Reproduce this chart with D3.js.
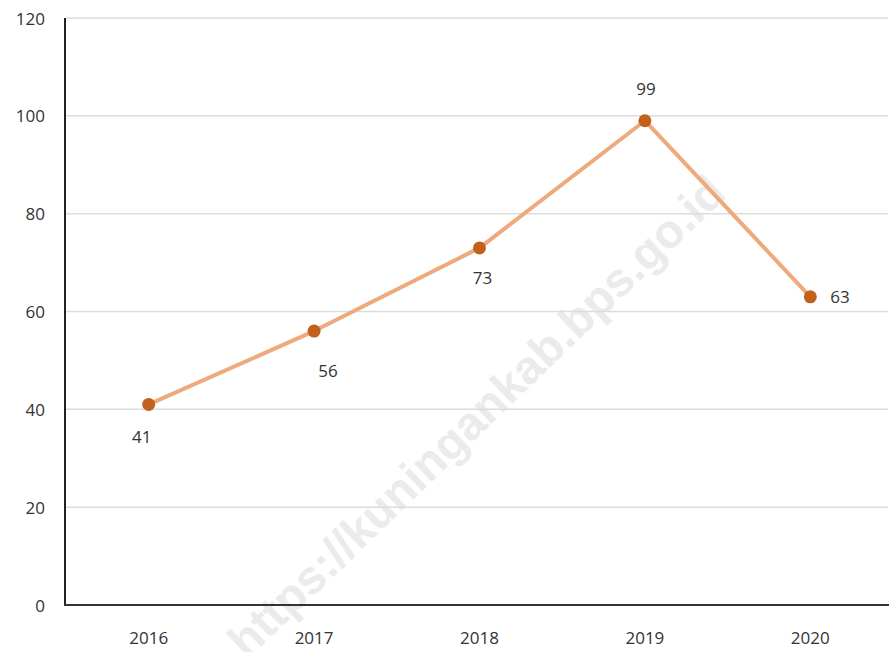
<!DOCTYPE html>
<html>
<head>
<meta charset="utf-8">
<script src="https://cdn.jsdelivr.net/npm/d3@7"></script>
<style>
  html, body { margin: 0; padding: 0; background: #fff; }
  svg { display: block; }
  text { font-family: "Open Sans", "DejaVu Sans", sans-serif; }
</style>
</head>
<body>
<svg id="chart" width="891" height="652"></svg>
<script>
const years = ["2016", "2017", "2018", "2019", "2020"];
const values = [41, 56, 73, 99, 63];
const yTicks = [0, 20, 40, 60, 80, 100, 120];
// label placement: dx, dy relative to point, anchor
const labelPos = [
  { dx: -7, dy: 32, anchor: "middle" },
  { dx: 14, dy: 39, anchor: "middle" },
  { dx: 3, dy: 30, anchor: "middle" },
  { dx: 1, dy: -32, anchor: "middle" },
  { dx: 20, dy: 0, anchor: "start" }
];

(function () {
const svg = d3.select("#chart");
const mLeft = 66, mRight = 893, mTop = 18, mBottom = 605;

const x = d3.scaleBand().domain(years).range([mLeft, mRight]);
const y = d3.scaleLinear().domain([0, 120]).range([mBottom, mTop]);

// watermark
svg.append("text")
  .attr("transform", "translate(476,416) rotate(-44)")
  .attr("text-anchor", "middle")
  .attr("dominant-baseline", "central")
  .style("font-family", "'Liberation Sans', Arial, sans-serif")
  .style("font-weight", "bold")
  .style("font-size", "47px")
  .attr("fill", "#ebebeb")
  .text("https://kuningankab.bps.go.id");

// gridlines
svg.append("g")
  .selectAll("line")
  .data(yTicks.filter(d => d > 0))
  .join("line")
  .attr("x1", mLeft).attr("x2", 888)
  .attr("y1", d => y(d)).attr("y2", d => y(d))
  .attr("stroke", "#dcdcdc").attr("stroke-width", 1.5);

// y tick labels
svg.append("g")
  .selectAll("text")
  .data(yTicks)
  .join("text")
  .attr("x", 45)
  .attr("y", d => y(d))
  .attr("text-anchor", "end")
  .attr("dominant-baseline", "central")
  .attr("fill", "#333")
  .style("font-size", "17px")
  .text(d => d);

// axes lines
svg.append("line")
  .attr("x1", 65).attr("x2", 65).attr("y1", mTop).attr("y2", mBottom)
  .attr("stroke", "#222").attr("stroke-width", 2);
svg.append("line")
  .attr("x1", 64).attr("x2", 889).attr("y1", mBottom).attr("y2", mBottom)
  .attr("stroke", "#333").attr("stroke-width", 2);

// x labels
svg.append("g")
  .selectAll("text")
  .data(years)
  .join("text")
  .attr("x", d => x(d) + x.bandwidth() / 2)
  .attr("y", 637)
  .attr("text-anchor", "middle")
  .attr("dominant-baseline", "central")
  .attr("fill", "#333")
  .style("font-size", "17px")
  .text(d => d);

const pts = years.map((yr, i) => ({ yr, v: values[i], i }));
const cx = d => x(d.yr) + x.bandwidth() / 2;

// line
svg.append("path")
  .datum(pts)
  .attr("fill", "none")
  .attr("stroke", "#eeaa7c")
  .attr("stroke-width", 4)
  .attr("stroke-linejoin", "round")
  .attr("d", d3.line().x(cx).y(d => y(d.v)));

// markers
svg.append("g")
  .selectAll("circle")
  .data(pts)
  .join("circle")
  .attr("cx", cx)
  .attr("cy", d => y(d.v))
  .attr("r", 6.5)
  .attr("fill", "#c2611c");

// value labels
svg.append("g")
  .selectAll("text")
  .data(pts)
  .join("text")
  .attr("x", d => cx(d) + labelPos[d.i].dx)
  .attr("y", d => y(d.v) + labelPos[d.i].dy)
  .attr("text-anchor", d => labelPos[d.i].anchor)
  .attr("dominant-baseline", "central")
  .attr("fill", "#333")
  .style("font-size", "17px")
  .text(d => d.v);
})();
</script>
</body>
</html>
